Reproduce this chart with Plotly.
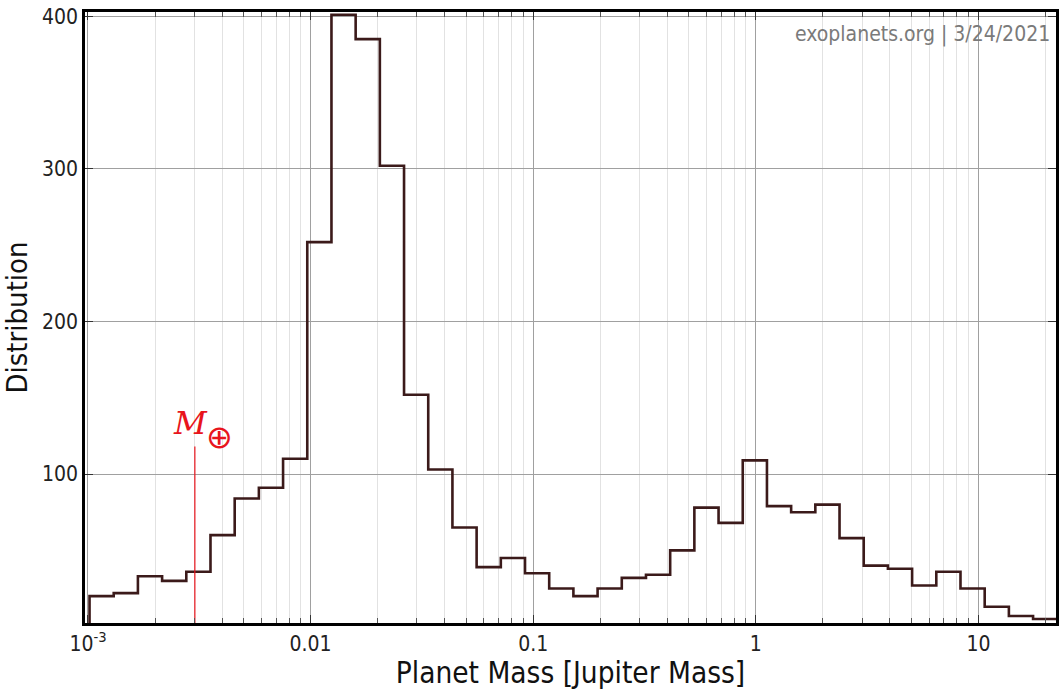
import numpy as np
import plotly.graph_objects as go

# ---- data ----
mass_min = 0.001016      # lower edge of first bin [Jupiter mass]
mass_max = 22.6          # upper edge of last bin [Jupiter mass]
n_bins = 40
counts = [20, 22, 33, 30, 36, 60, 84, 91, 110, 252,
          401, 385, 302, 152, 103, 65, 39, 45, 35, 25,
          20, 25, 32, 34, 50, 78, 68, 109, 79, 75,
          80, 58, 40, 38, 27, 36, 25, 13, 7, 5]
earth_mass = 0.00302
earth_line_top = 118
x_tickvals = [0.001, 0.01, 0.1, 1, 10]
x_ticktext = ["10<sup>-3</sup>", "0.01", "0.1", "1", "10"]
x_minor_mult = [2, 3, 4, 5, 6, 7, 8, 9]
x_decades = [0.001, 0.01, 0.1, 1, 10]
y_tickvals = [100, 200, 300, 400]

edges = np.logspace(np.log10(mass_min), np.log10(mass_max), n_bins + 1)
xs = [edges[0]] + list(edges)
ys = [0] + list(counts) + [counts[-1]]
minor_vals = [m * d for d in x_decades for m in x_minor_mult]

FONT = "DejaVu Sans Condensed, Noto Sans, DejaVu Sans, sans-serif"

fig = go.Figure()
fig.add_trace(go.Scatter(
    x=xs, y=ys, mode="lines", line_shape="hv",
    line=dict(color="#3b1a1a", width=2.6), hoverinfo="skip", showlegend=False))
fig.add_trace(go.Scatter(
    x=[earth_mass, earth_mass], y=[0, earth_line_top], mode="lines",
    line=dict(color="#e8141c", width=1.2), hoverinfo="skip", showlegend=False))

fig.add_annotation(x=np.log10(earth_mass), y=earth_line_top, xref="x", yref="y",
                   text="<i>M</i>", showarrow=False,
                   yanchor="middle", xanchor="center", xshift=-4, yshift=24,
                   font=dict(family="DejaVu Serif", size=32, color="#e8141c"))
fig.add_annotation(x=np.log10(earth_mass), y=earth_line_top, xref="x", yref="y",
                   text="⊕", showarrow=False,
                   yanchor="middle", xanchor="center", xshift=25, yshift=10,
                   font=dict(family="DejaVu Sans", size=32, color="#e8141c"))
fig.add_annotation(x=1, y=1, xref="paper", yref="paper",
                   text="exoplanets.org | 3/24/2021", showarrow=False,
                   xanchor="right", yanchor="top", xshift=-4, yshift=-8,
                   font=dict(family=FONT, size=21, color="#7a7a7a"))

lo = np.log10(0.001) - 3.0 / 223.3
fig.update_xaxes(
    type="log", range=[lo, lo + 974 / 223.3],
    tickvals=x_tickvals, ticktext=x_ticktext,
    ticks="inside", ticklen=8, tickwidth=1, tickcolor="#333",
    showline=True, linecolor="black", linewidth=2.5, mirror="allticks",
    showgrid=True, gridcolor="#a0a0a0", gridwidth=1,
    minor=dict(tickvals=minor_vals, ticks="inside", ticklen=5, tickcolor="#555",
               showgrid=True, gridcolor="#e2e2e2", gridwidth=1),
    title=dict(text="Planet Mass [Jupiter Mass]", standoff=6,
               font=dict(family=FONT, size=29.5, color="#111")),
    tickfont=dict(family=FONT, size=21, color="#222"),
    zeroline=False)
fig.update_yaxes(
    range=[2.4, 402.8], tickvals=y_tickvals,
    ticks="inside", ticklen=8, tickwidth=1, tickcolor="#333",
    showline=True, linecolor="black", linewidth=2.5, mirror="allticks",
    showgrid=True, gridcolor="#a0a0a0", gridwidth=1,
    title=dict(text="Distribution", standoff=8,
               font=dict(family=FONT, size=29, color="#111")),
    tickfont=dict(family=FONT, size=21, color="#222"),
    zeroline=False)

fig.update_layout(
    width=1059, height=693,
    margin=dict(l=85, r=0, t=12, b=70),
    plot_bgcolor="white", paper_bgcolor="white",
    showlegend=False)

fig.write_html("out.html")
